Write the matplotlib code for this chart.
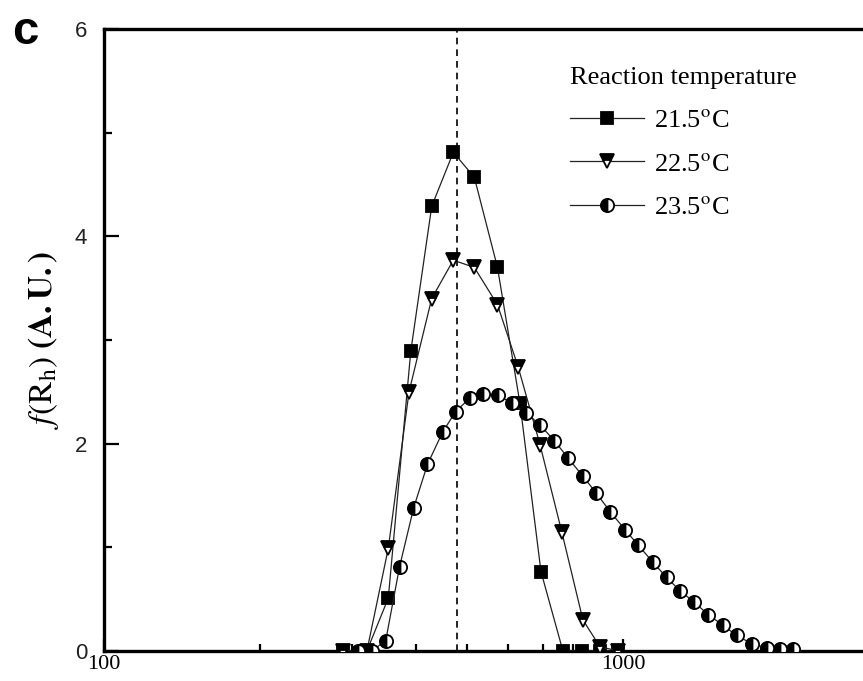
import numpy as np
import matplotlib
matplotlib.use("Agg")
import matplotlib.pyplot as plt
from matplotlib.ticker import LogLocator, FixedLocator, NullFormatter, FixedFormatter

plt.rcParams['mathtext.fontset'] = 'stix'
plt.rcParams['font.family'] = 'Liberation Serif'

# ------ data
rh_sq = [289, 321, 353, 390, 428, 471, 517, 573, 633, 695, 766, 832, 903, 980]
f_sq = [0.0, 0.0, 0.51, 2.89, 4.29, 4.81, 4.57, 3.70, 2.39, 0.765, 0.0, 0.0, 0.0, 0.0]

rh_tri = [289, 321, 353, 387, 428, 471, 517, 573, 628, 692, 762, 837, 903, 980]
f_tri = [0.0, 0.0, 0.99, 2.50, 3.40, 3.77, 3.70, 3.34, 2.74, 1.99, 1.15, 0.30, 0.04, 0.0]

rh_circ = [308, 328, 349, 371, 395, 420, 449, 476, 507, 538, 575, 610, 650, 692,
           737, 784, 836, 889, 946, 1009, 1070, 1140, 1213, 1288, 1372, 1460,
           1556, 1656, 1770, 1891, 2006, 2127]
f_circ = [0.0, 0.0, 0.10, 0.81, 1.38, 1.80, 2.11, 2.31, 2.44, 2.475, 2.47, 2.39,
          2.30, 2.18, 2.03, 1.86, 1.69, 1.52, 1.34, 1.17, 1.02, 0.86, 0.71, 0.58,
          0.47, 0.35, 0.25, 0.15, 0.07, 0.03, 0.02, 0.02]

peak_rh = 478
labels = ['21.5$^\\mathrm{o}$C', '22.5$^\\mathrm{o}$C', '23.5$^\\mathrm{o}$C']

# ------ plot
fig = plt.figure(figsize=(8.63, 6.81), dpi=100)
ax = fig.add_axes([0.1205, 0.0441, 0.8795, 0.9133])

line_kw = dict(color='#222222', lw=0.9, markeredgecolor='black', markeredgewidth=1.3)
ax.plot(rh_sq, f_sq, marker='s', markersize=9, markerfacecolor='black',
        label=labels[0], zorder=3, **line_kw)
ax.plot(rh_tri, f_tri, marker='v', markersize=10, markerfacecolor='black',
        markerfacecoloralt='white', fillstyle='top', label=labels[1], zorder=3, **line_kw)
ax.plot(rh_circ, f_circ, marker='o', markersize=9.5, markerfacecolor='black',
        markerfacecoloralt='white', fillstyle='left', label=labels[2], zorder=3, **line_kw)

ax.axvline(peak_rh, color='black', ls=(0, (4, 3)), lw=1.2, zorder=2)

ax.set_xscale('log')
ax.set_xlim(100, 2900)
ax.set_ylim(0, 6)

for s in ['left', 'top', 'bottom']:
    ax.spines[s].set_linewidth(2.4)
ax.spines['right'].set_visible(False)

ax.xaxis.set_major_locator(FixedLocator([100, 1000]))
ax.xaxis.set_major_formatter(FixedFormatter(['100', '1000']))
ax.xaxis.set_minor_locator(LogLocator(base=10, subs=np.arange(2, 10)))
ax.xaxis.set_minor_formatter(NullFormatter())
ax.set_yticks([0, 2, 4, 6])
ax.set_yticks([1, 3, 5], minor=True)

ax.tick_params(which='both', direction='in', top=False, right=False, width=1.6)
ax.tick_params(axis='x', which='major', length=9, pad=3, labelsize=16)
ax.tick_params(axis='x', which='minor', length=5)
ax.tick_params(axis='y', which='major', length=11, pad=12, labelsize=16)
ax.tick_params(axis='y', which='minor', length=6)
for t in ax.get_yticklabels():
    t.set_fontfamily('Liberation Sans')
    t.set_color('#222222')

ax.set_ylabel(r'$f\mathrm{(R_h)}$ $\mathbf{(A.U.)}$', fontsize=24, labelpad=10)

leg = ax.legend(loc='upper left', bbox_to_anchor=(570 / 863, 1 - 67 / 681),
                bbox_transform=fig.transFigure, frameon=False, fontsize=19,
                title='Reaction temperature', title_fontsize=19, alignment='left',
                handlelength=2.8, handletextpad=0.4, labelspacing=0.75,
                borderaxespad=0, borderpad=0)

fig.text(12 / 863, 1 - 44 / 681, 'c', fontsize=34, fontweight='bold',
         family='Liberation Sans')

fig.savefig('out.png', dpi=100)
